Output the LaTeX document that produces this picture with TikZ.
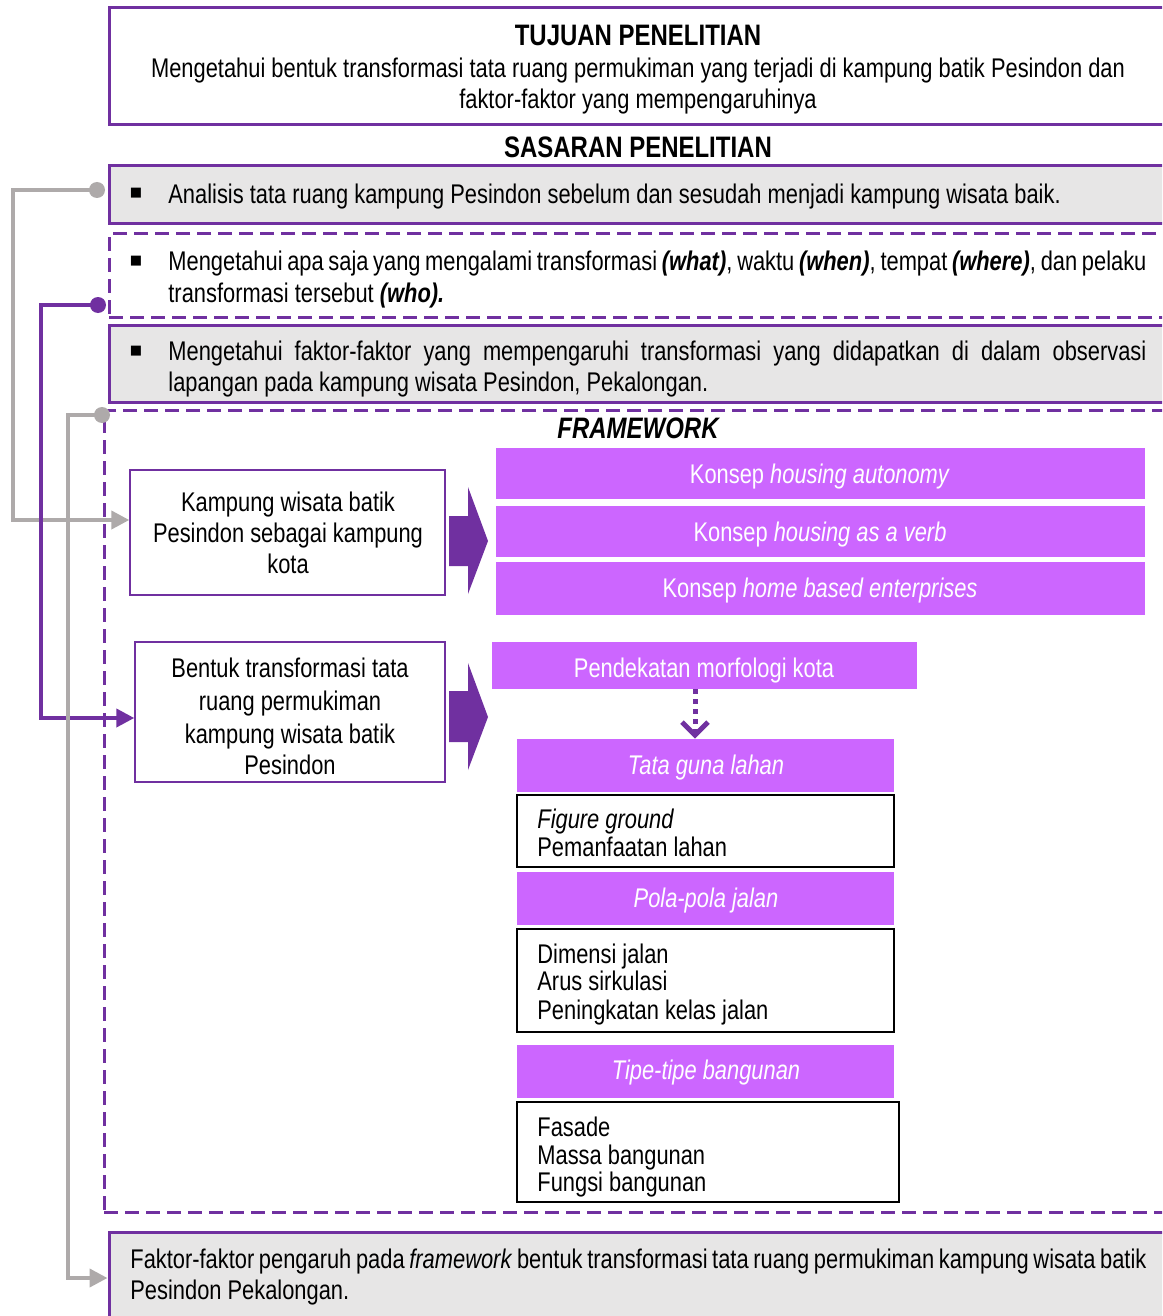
\documentclass[tikz,border=0pt]{standalone}
\usepackage{fontspec}
\setmainfont{Liberation Sans}[FakeStretch=0.81]
\newfontfamily\dejavu{DejaVu Sans}
\usetikzlibrary{arrows.meta,fit}
\definecolor{pborder}{HTML}{7030A0}
\definecolor{pfill}{HTML}{CC66FF}
\definecolor{gfill}{HTML}{E7E6E6}
\definecolor{gline}{HTML}{AEAAAA}
\begin{document}
\begin{tikzpicture}[x=0.5pt,y=-0.5pt,
  every node/.append style={font=\fontsize{13.5}{16}\selectfont},
  frame/.style={draw=pborder,line width=1.5pt,inner sep=0pt},
  dframe/.style={draw=pborder,line width=1.5pt,dash pattern=on 7pt off 3.5pt,inner sep=0pt},
  thinbox/.style={draw=pborder,line width=0.7pt,fill=white,inner sep=0pt},
  listbox/.style={draw=black,line width=0.7pt,fill=white,inner sep=0pt},
  pbox/.style={fill=pfill,inner sep=0pt},
  txt/.style={inner sep=0pt,anchor=mid,yshift=-2pt},
  ttl/.style={inner sep=0pt,anchor=mid,yshift=-2pt,font=\bfseries\fontsize{14.8}{17}\selectfont},
  ltxt/.style={inner sep=0pt,anchor=mid west,yshift=-2pt},
  wtxt/.style={inner sep=0pt,anchor=mid,text=white,yshift=-2pt},
  bul/.style={inner sep=0pt,anchor=center,font=\dejavu\fontsize{6.5}{8}\selectfont},
  gdot/.style={circle,fill=gline,minimum size=8pt,inner sep=0pt},
  pdot/.style={circle,fill=pborder,minimum size=8pt,inner sep=0pt},
  gcon/.style={draw=gline,line width=2pt,-{Triangle[length=9pt,width=9pt]}},
  pcon/.style={draw=pborder,line width=2pt,-{Triangle[length=9pt,width=9pt]}},
  bigarrow/.style={fill=pborder},
  dotarrow/.style={draw=pborder,line width=2.5pt,dash pattern=on 2.5pt off 2.5pt,-{Straight Barb[length=6.5pt,width=13pt,line width=2.5pt]}}
]
\useasboundingbox (0,0) rectangle (1162,1316);
\clip (0,0) rectangle (1162,1316);
\fill[white] (0,0) rectangle (1162,1316);

% top boxes
\node[frame,fill=white,fit={(109,8) (1200,125)}] (tuj) {};
\node[ttl] (tujt) at (638,36) {TUJUAN PENELITIAN};
\node[txt] (tuj1) at (638,68) {Mengetahui bentuk transformasi tata ruang permukiman yang terjadi di kampung batik Pesindon dan};
\node[txt] (tuj2) at (638,99) {faktor-faktor yang mempengaruhinya};

\node[ttl] (sas) at (638,148) {SASARAN PENELITIAN};

\node[frame,fill=gfill,fit={(109,166) (1200,224)}] (b1) {};
\node[bul] (bu1) at (136,193) {■};
\node[ltxt] (b1t) at (168,194) {Analisis tata ruang kampung Pesindon sebelum dan sesudah menjadi kampung wisata baik.};

\node[dframe,fill=white,fit={(109,234) (1200,317)}] (b2) {};
\node[bul] (bu2) at (136,261) {■};
\node[ltxt] (b2t1) at (168,261) {\hbox to 489pt{Mengetahui apa saja yang mengalami transformasi \textbf{\textit{(what)}}, waktu \textbf{\textit{(when)}}, tempat \textbf{\textit{(where)}}, dan pelaku}};
\node[ltxt] (b2t2) at (168,293) {transformasi tersebut \textbf{\textit{(who).}}};

\node[frame,fill=gfill,fit={(109,325) (1200,402)}] (b3) {};
\node[bul] (bu3) at (136,351) {■};
\node[ltxt] (b3t1) at (168,351) {\hbox to 489pt{Mengetahui faktor-faktor yang mempengaruhi transformasi yang didapatkan di dalam observasi}};
\node[ltxt] (b3t2) at (168,382) {lapangan pada kampung wisata Pesindon, Pekalongan.};

% framework
\node[dframe,fit={(104,410) (1200,1212)}] (fw) {};
\node[ttl,font=\bfseries\itshape\fontsize{14.8}{17}\selectfont] (fwt) at (638,429) {FRAMEWORK};

\node[thinbox,fit={(130,470) (445,595)}] (kamp) {};
\node[txt] (ka1) at (288,502) {Kampung wisata batik};
\node[txt] (ka2) at (288,533) {Pesindon sebagai kampung};
\node[txt] (ka3) at (288,564) {kota};

\fill[bigarrow] (449,516) -- (468,516) -- (468,487) -- (488,541) -- (468,594) -- (468,566) -- (449,566) -- cycle;
\fill[bigarrow] (449,691) -- (468,691) -- (468,663) -- (488,717) -- (468,770) -- (468,742) -- (449,742) -- cycle;

\node[pbox,fit={(496,448) (1145,499)}] (k1) {};
\node[wtxt] (k1t) at (820,474) {Konsep \textit{housing autonomy}};
\node[pbox,fit={(496,506) (1145,557)}] (k2) {};
\node[wtxt] (k2t) at (820,532) {Konsep \textit{housing as a verb}};
\node[pbox,fit={(496,562) (1145,615)}] (k3) {};
\node[wtxt] (k3t) at (820,588) {Konsep \textit{home based enterprises}};

\node[thinbox,fit={(135,642) (445,782)}] (bent) {};
\node[txt] (be1) at (290,668) {Bentuk transformasi tata};
\node[txt] (be2) at (290,701) {ruang permukiman};
\node[txt] (be3) at (290,734) {kampung wisata batik};
\node[txt] (be4) at (290,765) {Pesindon};

\node[pbox,fit={(492,642) (917,689)}] (pend) {};
\node[wtxt] (pendt) at (704,668) {Pendekatan morfologi kota};

\node[pbox,fit={(517,739) (894,792)}] (tgl) {};
\node[wtxt,font=\itshape\fontsize{13.5}{16}\selectfont] (tglt) at (706,765) {Tata guna lahan};
\node[listbox,fit={(517,795) (894,867)}] (l1) {};
\node[ltxt,font=\itshape\fontsize{13.5}{16}\selectfont] (l1a) at (537,819) {Figure ground};
\node[ltxt] (l1b) at (537,847) {Pemanfaatan lahan};

\node[pbox,fit={(517,872) (894,925)}] (ppj) {};
\node[wtxt,font=\itshape\fontsize{13.5}{16}\selectfont] (ppjt) at (706,898) {Pola-pola jalan};
\node[listbox,fit={(517,929) (894,1032)}] (l2) {};
\node[ltxt] (l2a) at (537,954) {Dimensi jalan};
\node[ltxt] (l2b) at (537,981) {Arus sirkulasi};
\node[ltxt] (l2c) at (537,1010) {Peningkatan kelas jalan};

\node[pbox,fit={(517,1045) (894,1098)}] (ttb) {};
\node[wtxt,font=\itshape\fontsize{13.5}{16}\selectfont] (ttbt) at (706,1070) {Tipe-tipe bangunan};
\node[listbox,fit={(517,1102) (899,1202)}] (l3) {};
\node[ltxt] (l3a) at (537,1127) {Fasade};
\node[ltxt] (l3b) at (537,1155) {Massa bangunan};
\node[ltxt] (l3c) at (537,1182) {Fungsi bangunan};

\draw[dotarrow] (pend.south -| 695,0) -- (tgl.north -| 695,0);

% bottom box
\node[frame,fill=gfill,fit={(109,1232) (1200,1340)}] (bot) {};
\node[ltxt] (bot1) at (130,1259) {\hbox to 508pt{Faktor-faktor pengaruh pada \textit{framework} bentuk transformasi tata ruang permukiman kampung wisata batik}};
\node[ltxt] (bot2) at (130,1290) {Pesindon Pekalongan.};

% connectors
\node[gdot] (d1) at (97,190) {};
\node[pdot] (d2) at (98,305) {};
\node[gdot] (d3) at (102,415) {};
\coordinate (g1b) at (13,520);
\coordinate (p1b) at (41,718);
\coordinate (g2b) at (68,1278);
\draw[gcon] (d1.center) -| (g1b) -- (g1b -| kamp.west);
\draw[pcon] (d2.center) -| (p1b) -- (p1b -| bent.west);
\draw[gcon] (d3.center) -| (g2b) -- (g2b -| bot.west);
\end{tikzpicture}
\end{document}
